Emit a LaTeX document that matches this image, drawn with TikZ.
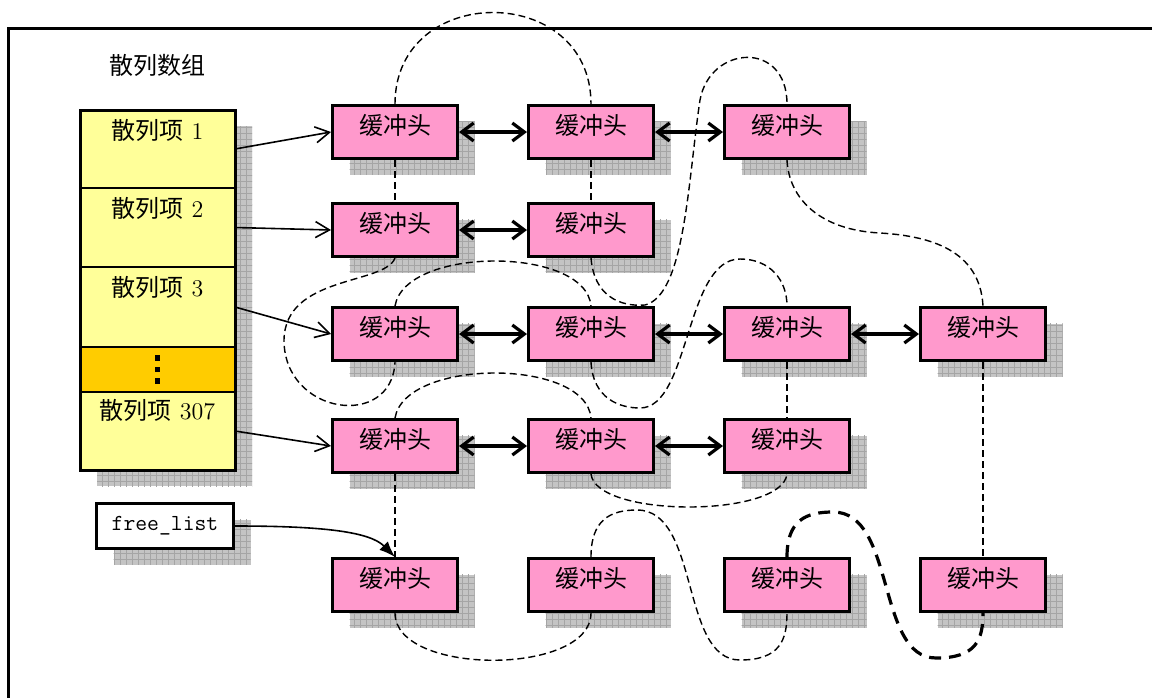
\documentclass[tikz,border=0pt]{standalone}
\usepackage{fontspec}
\newfontfamily\cjk{Noto Sans CJK SC}
\usepackage{xcolor}
\usetikzlibrary{arrows.meta, positioning, shadows, patterns}

\definecolor{bufpink}{RGB}{255,153,204}
\definecolor{cellyellow}{RGB}{255,255,153}
\definecolor{dotorange}{RGB}{255,204,0}
\definecolor{shadowgray}{RGB}{196,196,196}
\definecolor{gridgray}{RGB}{165,165,165}

\begin{document}
\begin{tikzpicture}[
    x=0.5pt, y=-0.5pt,
    boxshadow/.style={drop shadow={shadow xshift=8.5pt, shadow yshift=-8pt, fill=shadowgray, opacity=1},
                      drop shadow={shadow xshift=8.5pt, shadow yshift=-8pt, pattern=grid, pattern color=gridgray, opacity=1}},
    buffer/.style={draw, line width=1.5pt, fill=bufpink, rectangle, minimum width=62.5pt, minimum height=26.5pt, text depth=8pt, font=\cjk\fontsize{12}{14}\selectfont, boxshadow},
    hashcell/.style={draw, line width=0.75pt, fill=cellyellow, rectangle, minimum width=77.5pt, minimum height=39pt, outer sep=0pt, boxshadow},
    celltext/.style={font=\fontsize{12}{14}\selectfont},
    arraytitle/.style={font=\cjk\fontsize{12}{14}\selectfont},
    freebox/.style={draw, line width=1.5pt, fill=white, rectangle, minimum width=68.5pt, minimum height=22.5pt, font=\ttfamily\fontsize{11.5}{12}\selectfont, boxshadow},
    hasharrow/.style={-{Straight Barb[length=7pt, width=8pt]}, line width=0.8pt},
    dlink/.style={{Straight Barb[length=6pt, width=9pt]}-{Straight Barb[length=6pt, width=9pt]}, line width=1.6pt},
    freearrow/.style={-{Latex[length=8pt, width=6pt]}, line width=0.8pt},
    lrulink/.style={dash pattern=on 3.5pt off 2pt, line width=0.7pt},
    freelink/.style={dash pattern=on 6pt off 4pt, line width=1.6pt}
]
\useasboundingbox (0,0) rectangle (1152,697);

% Frame
\draw[line width=1.5pt] (8,720) -- (8,28) -- (1170,28);

% Hash array
\node[arraytitle] (title) at (157,65) {散列数组};
\node[hashcell, anchor=north west] (h1) at (80,110) {};
\node[hashcell, below=0pt of h1, minimum height=39.5pt] (h2) {};
\node[hashcell, below=0pt of h2, minimum height=40pt] (h3) {};
\node[hashcell, below=0pt of h3, fill=dotorange, minimum height=22.5pt, align=center, font=\fontsize{5.75}{5.75}\selectfont] (hdots) {\rule{2.6pt}{2.6pt}\\\rule{2.6pt}{2.6pt}\\\rule{2.6pt}{2.6pt}};
\node[hashcell, below=0pt of hdots] (h307) {};
\draw[line width=1.5pt] (h1.north west) rectangle (h307.south east);
\node[celltext, below=1pt of h1.north] (t1) {{\cjk 散列项} 1};
\node[celltext, below=1pt of h2.north] (t2) {{\cjk 散列项} 2};
\node[celltext, below=1pt of h3.north] (t3) {{\cjk 散列项} 3};
\node[celltext, below=0pt of h307.north] (t307) {{\cjk 散列项} 307};

% free list head
\node[freebox] (free) at (165,526) {free\_list};

% Buffer heads
\node[buffer] (b11) at (395,132) {缓冲头};
\node[buffer] (b12) at (591,132) {缓冲头};
\node[buffer] (b13) at (787,132) {缓冲头};
\node[buffer] (b21) at (395,230) {缓冲头};
\node[buffer] (b22) at (591,230) {缓冲头};
\node[buffer] (b31) at (395,334) {缓冲头};
\node[buffer] (b32) at (591,334) {缓冲头};
\node[buffer] (b33) at (787,334) {缓冲头};
\node[buffer] (b34) at (983,334) {缓冲头};
\node[buffer] (b41) at (395,446) {缓冲头};
\node[buffer] (b42) at (591,446) {缓冲头};
\node[buffer] (b43) at (787,446) {缓冲头};
\node[buffer] (b51) at (395,585) {缓冲头};
\node[buffer] (b52) at (591,585) {缓冲头};
\node[buffer] (b53) at (787,585) {缓冲头};
\node[buffer] (b54) at (983,585) {缓冲头};

% Hash chains
\draw[hasharrow] (h1.east) -- (b11.west);
\draw[hasharrow] (h2.east) -- (b21.west);
\draw[hasharrow] (h3.east) -- (b31.west);
\draw[hasharrow] (h307.east) -- (b41.west);
\draw[dlink] (b11.east) -- (b12.west);
\draw[dlink] (b12.east) -- (b13.west);
\draw[dlink] (b21.east) -- (b22.west);
\draw[dlink] (b31.east) -- (b32.west);
\draw[dlink] (b32.east) -- (b33.west);
\draw[dlink] (b33.east) -- (b34.west);
\draw[dlink] (b41.east) -- (b42.west);
\draw[dlink] (b42.east) -- (b43.west);
\draw[freearrow] (free.east) .. controls +(90,0) and +(-25,-25) .. (b51.north);

% Free list (dashed)
\draw[lrulink] (b11.north) .. controls +(0,-122) and +(0,-122) .. (b12.north);
\draw[lrulink] (b11.south) -- (b21.north);
\draw[lrulink] (b12.south) -- (b22.north);
\draw[lrulink] (b21.south) .. controls (385,285) and (285,275) .. (284,340) .. controls (284,415) and (392,430) .. (b31.south);
\draw[lrulink] (b31.north) .. controls +(10,-60) and +(-5,-60) .. (b32.north);
\draw[lrulink] (b41.north) .. controls +(10,-60) and +(-5,-60) .. (b42.north);
\draw[lrulink] (b41.south) -- (b51.north);
\draw[lrulink] (b22.south) .. controls +(3,38) and (620,307) .. (645,305) .. controls (685,295) and (688,180) .. (700,100) .. controls (710,45) and +(0,-64) .. (b13.north);
\draw[lrulink] (b13.south) .. controls +(2,39) and (820,230) .. (880,233) .. controls (930,236) and (980,250) .. (b34.north);
\draw[lrulink] (b32.south) .. controls +(2,37) and (620,408) .. (640,408) .. controls (690,408) and (685,259) .. (740,259) .. controls (770,259) and +(0,-26) .. (b33.north);
\draw[lrulink] (b33.south) -- (b43.north);
\draw[lrulink] (b42.south) .. controls +(5,44) and +(-5,44) .. (b43.south);
\draw[lrulink] (b34.south) -- (b54.north);
\draw[lrulink] (b51.south) .. controls +(0,63) and +(0,63) .. (b52.south);
\draw[lrulink] (b52.north) .. controls +(0,-37) and (610,510) .. (637,510) .. controls (700,510) and (680,660) .. (740,660) .. controls (780,660) and +(0,27) .. (b53.south);
\draw[freelink] (b53.north) .. controls +(0,-37) and (806,512) .. (833,512) .. controls (896,512) and (876,658) .. (936,658) .. controls (976,658) and +(0,27) .. (b54.south);

\end{tikzpicture}
\end{document}
